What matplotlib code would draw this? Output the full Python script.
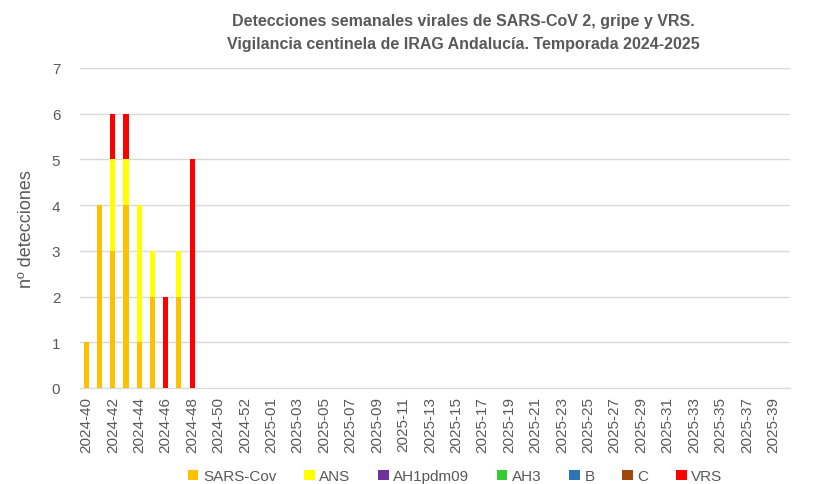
import numpy as np
import matplotlib
matplotlib.use("Agg")
from matplotlib import pyplot as plt

# weeks 2024-40 .. 2025-39 (2024 labelled up to week 53)
weeks = [f"2024-{w:02d}" for w in range(40, 54)] + [f"2025-{w:02d}" for w in range(1, 40)]
n = len(weeks)

def series(vals):
    out = np.zeros(n)
    out[:len(vals)] = vals
    return out

sars_cov = series([1, 4, 3, 4, 1, 2, 0, 2, 0])
ans = series([0, 0, 2, 1, 3, 1, 0, 1, 0])
ah1pdm09 = series([])
ah3 = series([])
b = series([])
c = series([])
vrs = series([0, 0, 1, 1, 0, 0, 2, 0, 5])

names = ["SARS-Cov", "ANS", "AH1pdm09", "AH3", "B", "C", "VRS"]
colors = ["#FFC000", "#FFFF00", "#7030A0", "#33CC33", "#2E75B6", "#9E480E", "#FF0000"]
data = [sars_cov, ans, ah1pdm09, ah3, b, c, vrs]

plt.rcParams["font.family"] = ["Liberation Sans", "DejaVu Sans"]
grey = "#595959"

fig = plt.figure(figsize=(8.14, 4.85), dpi=100)
ax = fig.add_axes([0.098, 0.198, 0.873, 0.66])

x = np.arange(n)
bottom = np.zeros(n)
for name, col, vals in zip(names, colors, data):
    ax.bar(x, vals, width=0.38, bottom=bottom, color=col, label=name, zorder=3)
    bottom += vals

ax.set_ylim(0, 7)
ax.set_xlim(-0.5, n + 0.3)
ax.set_yticks(range(0, 8))
ax.set_xticks(x[::2])
ax.set_xticklabels(weeks[::2], rotation=90)
ax.tick_params(axis="both", length=0, colors=grey, labelsize=11)
ax.tick_params(axis="y", pad=14)
ax.tick_params(axis="x", pad=6)
ax.grid(axis="y", color="#D9D9D9", linewidth=1, zorder=0)
for s in ["top", "right", "left"]:
    ax.spines[s].set_visible(False)
ax.spines["bottom"].set_color("#D9D9D9")

ax.set_ylabel("nº detecciones", fontsize=13, color=grey, labelpad=12)
fig.text(0.569, 0.932,
         "Detecciones semanales virales de SARS-CoV 2, gripe y VRS.\n"
         "Vigilancia centinela de IRAG Andalucía. Temporada 2024-2025",
         fontsize=11.5, fontweight="bold", color=grey, ha="center", va="center",
         linespacing=1.6)

fig.legend(loc="center", bbox_to_anchor=(0.559, 0.016), ncol=7, frameon=False,
           fontsize=11, labelcolor=grey, handlelength=0.7, handleheight=0.7,
           handletextpad=0.3, columnspacing=1.8)

fig.savefig("out.png", dpi=100)
